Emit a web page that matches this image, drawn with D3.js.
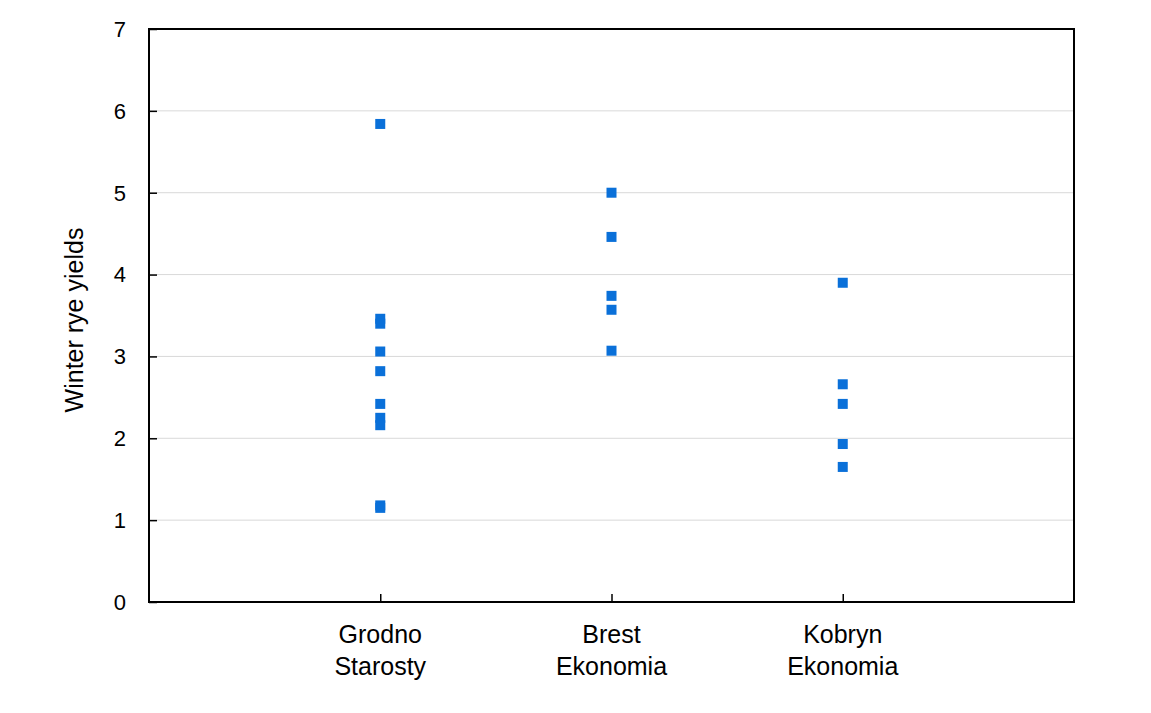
<!DOCTYPE html>
<html><head><meta charset="utf-8">
<script src="https://cdn.jsdelivr.net/npm/d3@7"></script>
<style>body{margin:0;background:#fff}svg{display:block}text{font-family:"Liberation Sans",Arial,sans-serif;fill:#000}</style>
</head><body><svg id="c" width="1151" height="713"></svg>
<script>
const categories = [["Grodno","Starosty"],["Brest","Ekonomia"],["Kobryn","Ekonomia"]];
const grodno = [5.84, 3.46, 3.40, 3.06, 2.82, 2.42, 2.25, 2.16, 1.18, 1.15];
const brest = [5.00, 4.46, 3.74, 3.57, 3.07];
const kobryn = [3.90, 2.66, 2.42, 1.93, 1.65];
const yTicks = [0,1,2,3,4,5,6,7];
const series = [grodno, brest, kobryn];

const svg = d3.select("#c");
const L=149, R=1074, T=29, B=602;
const x = d3.scaleLinear().domain([0,4]).range([L,R]);
const y = d3.scaleLinear().domain([0,7]).range([B,T]);

// grid
svg.append("g").selectAll("line").data(yTicks.filter(d=>d>0&&d<7)).join("line")
  .attr("x1",L).attr("x2",R).attr("y1",d=>y(d)).attr("y2",d=>y(d))
  .attr("stroke","#d9d9d9").attr("stroke-width",1);

// y axis ticks (inside)
const ya = svg.append("g").attr("transform",`translate(${L},0)`)
  .call(d3.axisRight(y).tickValues(yTicks).tickSize(8).tickFormat(""));
ya.select(".domain").remove();
ya.selectAll("line").attr("stroke","#000").attr("stroke-width",1.5);
svg.append("g").selectAll("text").data(yTicks).join("text")
  .attr("x",126).attr("y",d=>y(d)).attr("dy","0.36em").attr("text-anchor","end")
  .style("font-size","22px").text(d=>d);

// x axis ticks (inside)
const xa = svg.append("g").attr("transform",`translate(0,${B})`)
  .call(d3.axisTop(x).tickValues([1,2,3]).tickSize(8).tickFormat(""));
xa.select(".domain").remove();
xa.selectAll("line").attr("stroke","#000").attr("stroke-width",1.5);

const lab = svg.append("g").selectAll("text").data(categories).join("text")
  .attr("x",(d,i)=>x(i+1)).attr("text-anchor","middle").style("font-size","25px");
lab.append("tspan").attr("x",(d,i)=>x(i+1)).attr("y",643).text(d=>d[0]);
lab.append("tspan").attr("x",(d,i)=>x(i+1)).attr("y",675).text(d=>d[1]);

// frame
svg.append("rect").attr("x",L).attr("y",T).attr("width",R-L).attr("height",B-T)
  .attr("fill","none").attr("stroke","#000").attr("stroke-width",2);

// points
const pts = series.flatMap((s,i)=>s.map(v=>({c:i+1,v})));
svg.append("g").selectAll("rect").data(pts).join("rect")
  .attr("x",d=>x(d.c)-5).attr("y",d=>y(d.v)-5).attr("width",10).attr("height",10)
  .attr("fill","#0a70d9");

svg.append("text").attr("transform",`translate(83,320) rotate(-90)`)
  .attr("text-anchor","middle").style("font-size","25px").text("Winter rye yields");
</script></body></html>
